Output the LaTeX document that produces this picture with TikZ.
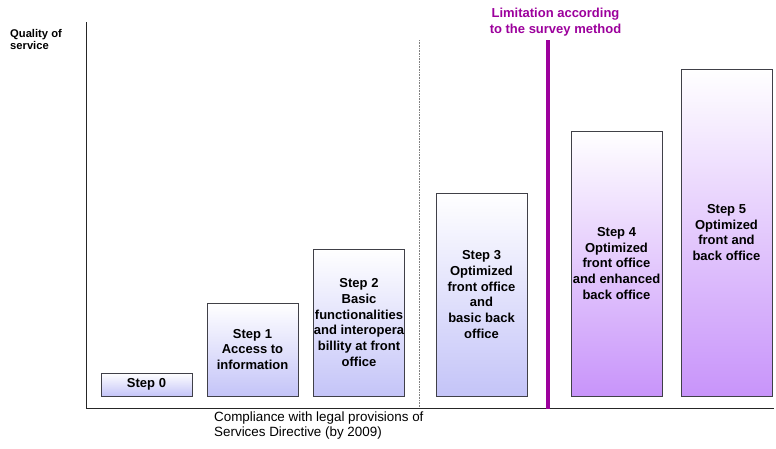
\documentclass[tikz,border=0pt]{standalone}
\usepackage{fontspec}
\setmainfont{Liberation Sans}
\definecolor{boxline}{HTML}{404048}
\definecolor{bluebot}{HTML}{C4C4F8}
\definecolor{purpbot}{HTML}{C894FA}
\definecolor{limpurple}{HTML}{9C009C}
\begin{document}
\begin{tikzpicture}[x=1pt,y=-1pt,
  stepbox/.style={draw=boxline, line width=0.8pt, minimum width=91pt, inner sep=0pt,
    align=center, font=\fontsize{13}{15.8}\selectfont\bfseries, text=black},
  bluebox/.style={stepbox, top color=white, bottom color=bluebot},
  purpbox/.style={stepbox, top color=white, bottom color=purpbot},
  axisline/.style={line width=0.8pt, draw=black!85},
  lbl/.style={inner sep=0pt, align=left}]
\useasboundingbox (0,0) rectangle (776,448);

% axes
\coordinate (ytop) at (86,22);
\coordinate (origin) at (86,408);
\coordinate (xend) at (774,408);
\draw[axisline] (ytop) -- (origin) -- (xend);

% dotted divider
\coordinate (dtop) at (419,40);
\coordinate (dbot) at (419,407);
\draw[gray, densely dotted, line width=0.6pt] (dtop) -- (dbot);

% limitation line
\coordinate (ltop) at (547.5,40);
\coordinate (lbot) at (547.5,409);
\draw[limpurple, line width=4pt] (ltop) -- (lbot);
\node[lbl, align=center, text=limpurple, font=\fontsize{13}{15.6}\selectfont\bfseries, anchor=center] (limlabel) at (555.5,22) {Limitation according\\to the survey method};

% y label
\node[lbl, anchor=north west, font=\fontsize{11.2}{12.2}\selectfont\bfseries] (ylabel) at (10,29) {Quality of\\service};

% x label
\node[lbl, anchor=north west, font=\fontsize{13.4}{15}\selectfont] (xlabel) at (214,412) {Compliance with legal provisions of\\Services Directive (by 2009)};

% steps
\node[bluebox, minimum height=23pt] (s0) at (146.5,384.5) {Step 0};
\node[bluebox, minimum height=93pt] (s1) at (252.5,349.5) {Step 1\\Access to\\information};
\node[bluebox, minimum height=147pt] (s2) at (359,322.5) {Step 2\\Basic\\functionalities\\and interopera\\billity at front\\office};
\node[bluebox, minimum height=203pt] (s3) at (481.5,294.5) {Step 3\\Optimized\\front office\\and\\basic back\\office};
\node[purpbox, minimum height=265pt] (s4) at (616.5,263.5) {Step 4\\Optimized\\front office\\and enhanced\\back office};
\node[purpbox, minimum height=327pt] (s5) at (726.5,232.5) {Step 5\\Optimized\\front and\\back office};
\end{tikzpicture}
\end{document}
